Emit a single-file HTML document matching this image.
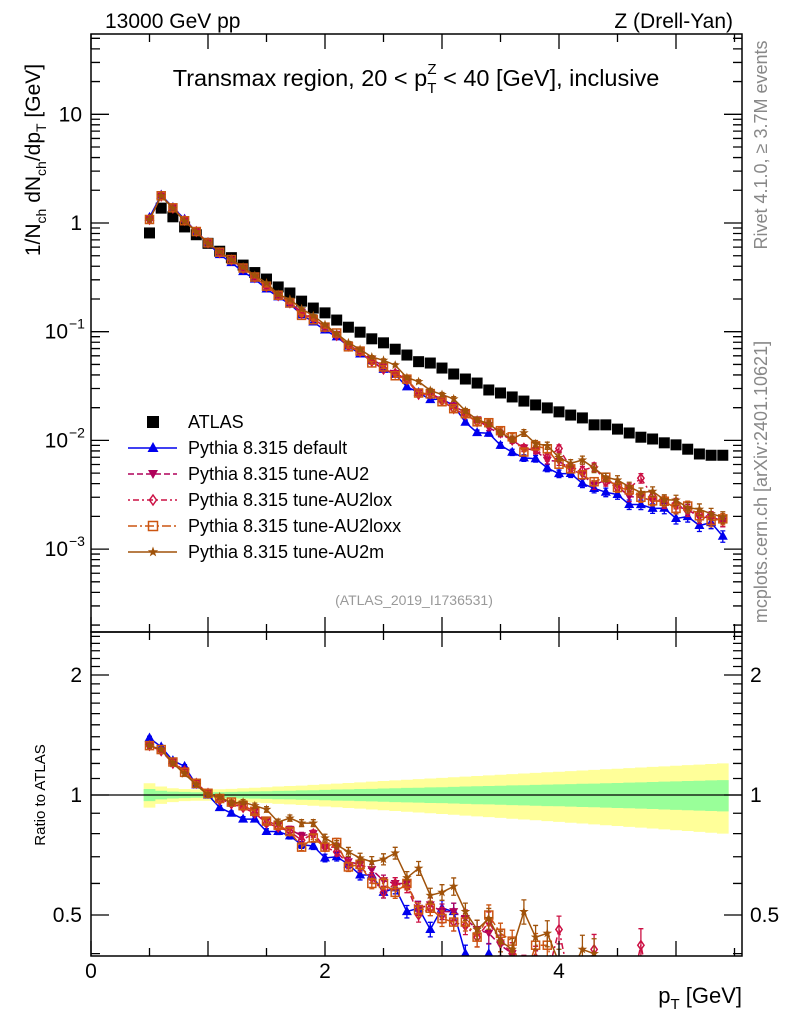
<!DOCTYPE html>
<html><head><meta charset="utf-8"><style>
html,body{margin:0;padding:0;background:#fff;width:786px;height:1024px;overflow:hidden}
svg{display:block;font-family:"Liberation Sans",sans-serif}
</style></head><body>
<svg id="c" width="786" height="1024" viewBox="0 0 786 1024" xmlns="http://www.w3.org/2000/svg">
<defs>
<clipPath id="cm"><rect x="91" y="34" width="651" height="598"/></clipPath>
<clipPath id="cr"><rect x="91" y="632" width="651" height="324"/></clipPath>
</defs>
<text x="105" y="28" font-size="21">13000 GeV pp</text>
<text x="733" y="28" font-size="21" text-anchor="end">Z (Drell-Yan)</text>
<text x="416" y="86" font-size="23.5" text-anchor="middle">Transmax region, 20 &lt; p<tspan font-size="15" dy="7">T</tspan><tspan font-size="15" dx="-9" dy="-19">Z</tspan><tspan dy="12"> &lt; 40 [GeV], inclusive</tspan></text>
<text transform="translate(767,145) rotate(-90)" font-size="18" fill="#888" text-anchor="middle">Rivet 4.1.0, ≥ 3.7M events</text>
<text transform="translate(767,482) rotate(-90)" font-size="18" fill="#888" text-anchor="middle">mcplots.cern.ch [arXiv:2401.10621]</text>
<text x="414" y="605" font-size="14" fill="#999" text-anchor="middle">(ATLAS_2019_I1736531)</text>
<text transform="translate(40,160) rotate(-90)" font-size="21" text-anchor="middle">1/N<tspan font-size="14" dy="6">ch</tspan><tspan dy="-6"> dN</tspan><tspan font-size="14" dy="6">ch</tspan><tspan dy="-6">/dp</tspan><tspan font-size="14" dy="6">T</tspan><tspan dy="-6"> [GeV]</tspan></text>
<text transform="translate(45,795) rotate(-90)" font-size="15" text-anchor="middle">Ratio to ATLAS</text>
<text x="742" y="1003" font-size="22" text-anchor="end">p<tspan font-size="15" dy="6">T</tspan><tspan dy="-6"> [GeV]</tspan></text>
<g id="gband" clip-path="url(#cr)"></g>
<g id="gmain" clip-path="url(#cm)"></g>
<g id="gratio" clip-path="url(#cr)"></g>
<g id="gaxes"></g>
<g id="glegend"></g>
</svg>
<script>
const xBins=[0.5,0.6,0.7,0.8,0.9,1.0,1.1,1.2,1.3,1.4,1.5,1.6,1.7,1.8,1.9,2.0,2.1,2.2,2.3,2.4,2.5,2.6,2.7,2.8,2.9,3.0,3.1,3.2,3.3,3.4,3.5,3.6,3.7,3.8,3.9,4.0,4.1,4.2,4.3,4.4,4.5,4.6,4.7,4.8,4.9,5.0,5.1,5.2,5.3,5.4];
const atlas=[0.81,1.37,1.14,0.92,0.78,0.65,0.55,0.48,0.41,0.35,0.305,0.258,0.227,0.191,0.165,0.149,0.128,0.110,0.099,0.086,0.079,0.069,0.061,0.053,0.0515,0.0463,0.0408,0.0367,0.0337,0.0291,0.0273,0.0251,0.0230,0.0212,0.0199,0.0183,0.0171,0.0161,0.0139,0.0139,0.0127,0.0117,0.0107,0.0103,0.0095,0.0091,0.0083,0.0075,0.0073,0.0073];
const rDefault=[1.39,1.32,1.22,1.18,1.06,1.00,0.93,0.90,0.87,0.87,0.81,0.81,0.79,0.75,0.745,0.695,0.70,0.67,0.63,0.63,0.57,0.585,0.51,0.52,0.46,0.52,0.51,0.40,0.35,0.40,0.33,0.31,0.30,0.32,0.28,0.27,0.29,0.25,0.26,0.24,0.25,0.22,0.24,0.23,0.25,0.21,0.24,0.22,0.24,0.18];
const rAU2=[1.33,1.29,1.21,1.15,1.07,1.01,0.98,0.95,0.94,0.91,0.86,0.84,0.82,0.79,0.80,0.74,0.74,0.68,0.67,0.65,0.61,0.60,0.60,0.52,0.53,0.51,0.51,0.49,0.46,0.45,0.42,0.40,0.37,0.38,0.33,0.35,0.32,0.30,0.28,0.31,0.30,0.26,0.28,0.27,0.29,0.27,0.28,0.26,0.27,0.25];
const rAU2lox=[1.33,1.29,1.20,1.15,1.07,1.01,0.97,0.95,0.93,0.90,0.85,0.83,0.81,0.77,0.80,0.74,0.72,0.67,0.66,0.62,0.57,0.60,0.59,0.50,0.52,0.50,0.48,0.47,0.44,0.48,0.43,0.40,0.37,0.39,0.35,0.46,0.33,0.33,0.41,0.30,0.29,0.31,0.42,0.30,0.28,0.29,0.27,0.28,0.27,0.25];
const rAU2loxx=[1.33,1.30,1.21,1.14,1.07,1.01,0.98,0.96,0.94,0.91,0.86,0.84,0.81,0.74,0.78,0.74,0.76,0.66,0.67,0.60,0.60,0.57,0.60,0.515,0.52,0.49,0.48,0.48,0.44,0.50,0.45,0.43,0.34,0.42,0.42,0.33,0.32,0.30,0.30,0.33,0.29,0.30,0.28,0.27,0.29,0.26,0.30,0.27,0.25,0.26];
const rAU2m=[1.33,1.30,1.20,1.13,1.06,1.00,0.99,0.955,0.96,0.94,0.92,0.855,0.875,0.85,0.85,0.78,0.75,0.72,0.695,0.68,0.69,0.715,0.62,0.655,0.56,0.57,0.59,0.51,0.46,0.49,0.43,0.41,0.51,0.44,0.45,0.38,0.36,0.41,0.40,0.33,0.34,0.32,0.31,0.33,0.30,0.31,0.29,0.31,0.29,0.27];
const mcErr=[0.01,0.01,0.01,0.01,0.01,0.012,0.012,0.013,0.014,0.015,0.016,0.017,0.018,0.02,0.02,0.022,0.024,0.026,0.028,0.03,0.032,0.034,0.036,0.04,0.042,0.045,0.05,0.05,0.055,0.06,0.06,0.065,0.07,0.07,0.075,0.08,0.08,0.085,0.09,0.09,0.095,0.1,0.1,0.1,0.11,0.11,0.11,0.12,0.12,0.12];
const bandGreen=[0.035,0.025,0.02,0.018,0.016,0.016,0.017,0.018,0.02,0.021,0.022,0.024,0.025,0.027,0.028,0.03,0.032,0.033,0.035,0.036,0.038,0.04,0.042,0.043,0.045,0.046,0.048,0.05,0.052,0.053,0.055,0.057,0.058,0.06,0.062,0.063,0.065,0.067,0.068,0.07,0.072,0.074,0.076,0.078,0.08,0.082,0.084,0.086,0.088,0.09];
const bandYellow=[0.07,0.05,0.04,0.035,0.033,0.033,0.034,0.036,0.04,0.043,0.046,0.05,0.053,0.056,0.06,0.064,0.068,0.072,0.076,0.08,0.084,0.088,0.092,0.096,0.1,0.104,0.108,0.112,0.116,0.12,0.124,0.128,0.132,0.136,0.14,0.144,0.148,0.152,0.156,0.16,0.164,0.168,0.172,0.176,0.18,0.184,0.188,0.192,0.196,0.2];
const seriesNames=["Pythia 8.315 default","Pythia 8.315 tune-AU2","Pythia 8.315 tune-AU2lox","Pythia 8.315 tune-AU2loxx","Pythia 8.315 tune-AU2m"];
const xTickLabels=["0","2","4"];
const ratioTickLabels=["0.5","1","2"];

const NS="http://www.w3.org/2000/svg";
const X=v=>91+117*v;
const YM=v=>223-108.7*Math.log10(v);
const YR=r=>795-398.7*Math.log10(r);
function mk(tag,attrs,parent){const e=document.createElementNS(NS,tag);for(const k in attrs)e.setAttribute(k,attrs[k]);parent.appendChild(e);return e;}
const gb=document.getElementById('gband'),gm=document.getElementById('gmain'),gr=document.getElementById('gratio'),ga=document.getElementById('gaxes'),gl=document.getElementById('glegend');
const hw=0.05;
['y','g'].forEach(t=>{const arr=t==='y'?bandYellow:bandGreen;let d='';
 xBins.forEach((x,i)=>{const x0=X(x-hw),x1=X(x+hw),y0=YR(1+arr[i]),y1=YR(1-arr[i]);d+=`M${x0},${y0}H${x1}V${y1}H${x0}Z`;});
 const p=mk('path',{d:d,fill:t==='y'?'#ffff99':'#99ff99'},gb);
 
 });
const ref=mk('line',{x1:91,x2:742,y1:795,y2:795,stroke:'#000','stroke-width':1.3},gb);



function marker(type,cx,cy,col,parent,s){
 s=s||4.5;let e;
 if(type==='sq') e=mk('rect',{x:cx-s,y:cy-s,width:2*s,height:2*s,fill:col},parent);
 else if(type==='tu') e=mk('path',{d:`M${cx},${cy-s-1}L${cx+s+0.5},${cy+s-1}L${cx-s-0.5},${cy+s-1}Z`,fill:col},parent);
 else if(type==='td') e=mk('path',{d:`M${cx},${cy+s}L${cx+s},${cy-s+1}L${cx-s},${cy-s+1}Z`,fill:col},parent);
 else if(type==='di') e=mk('path',{d:`M${cx},${cy-s}L${cx+s*0.7},${cy}L${cx},${cy+s}L${cx-s*0.7},${cy}Z`,fill:'none',stroke:col,'stroke-width':1.5},parent);
 else if(type==='os') e=mk('rect',{x:cx-s+0.5,y:cy-s+0.5,width:2*s-1,height:2*s-1,fill:'none',stroke:col,'stroke-width':1.5},parent);
 else if(type==='st'){let d='';for(let k=0;k<10;k++){const r=k%2?s*0.45:s+0.5,a=-Math.PI/2+k*Math.PI/5;d+=(k?'L':'M')+(cx+r*Math.cos(a)).toFixed(1)+','+(cy+r*Math.sin(a)).toFixed(1);}e=mk('path',{d:d+'Z',fill:col},parent);}
 return e;
}
const series=[
 {r:rDefault,col:'#0000ee',m:'tu',dash:'',key:'default'},
 {r:rAU2,col:'#b0005a',m:'td',dash:'6,3',key:'au2'},
 {r:rAU2lox,col:'#cc1144',m:'di',dash:'2,3,6,3',key:'au2lox'},
 {r:rAU2loxx,col:'#cc5511',m:'os',dash:'9,3,2,3',key:'au2loxx'},
 {r:rAU2m,col:'#a0520a',m:'st',dash:'',key:'au2m'}];
xBins.forEach((x,i)=>{const e=marker('sq',X(x),YM(atlas[i]),'#000',gm,5.5);
 
 });
series.forEach(s=>{
 [[gm,'main'],[gr,'ratio']].forEach(([g,pn])=>{
  const grp=mk('g',{},g);
  
  
  const yf=i=>pn==='main'?YM(atlas[i]*s.r[i]):YR(s.r[i]);
  const pts=xBins.map((x,i)=>X(x).toFixed(1)+','+yf(i).toFixed(1)).join(' ');
  mk('polyline',{points:pts,fill:'none',stroke:s.col,'stroke-width':1.5,'stroke-dasharray':s.dash},grp);
  xBins.forEach((x,i)=>{const v=pn==='main'?atlas[i]*s.r[i]:s.r[i];
   const ya=pn==='main'?YM(v*(1+mcErr[i])):YR(v*(1+mcErr[i])),yb=pn==='main'?YM(v*(1-mcErr[i])):YR(v*(1-mcErr[i]));
   mk('path',{d:`M${X(x)},${ya}V${yb}M${X(x)-2.5},${ya}h5M${X(x)-2.5},${yb}h5`,stroke:s.col,'stroke-width':1.3,fill:'none'},grp);
   const m=marker(s.m,X(x),yf(i),s.col,grp,4.5);
   
   });
 });
});
[[34,632],[632,956]].forEach(([t,b],k)=>{const r=mk('rect',{x:91,y:t,width:651,height:b-t,fill:'none',stroke:'#000','stroke-width':1.5},ga);
 
 });
let d='';
for(let v=0;v<=5.5;v+=0.5){const big=Math.abs(v-Math.round(v))<1e-6;const L=big?15:8;
 [[34,1],[632,-1],[632,1],[956,-1]].forEach(([y,s])=>{d+=`M${X(v)},${y}v${s*L}`;});}
for(let e=-4;e<=1;e++){for(let m=1;m<10;m++){const v=m*Math.pow(10,e),y=YM(v);if(y<34||y>632)continue;const L=m===1?18:9;d+=`M91,${y}h${L}M742,${y}h${-L}`;}}
for(let m=4;m<=25;m++){const v=m/10,y=YR(v);if(y<632||y>956)continue;const L=(m===5||m===10||m===20)?18:9;d+=`M91,${y}h${L}M742,${y}h${-L}`;}
mk('path',{d:d,stroke:'#000','stroke-width':1.3,fill:'none'},ga);
xTickLabels.forEach((t,i)=>{const e=mk('text',{x:X(+t),y:978,'font-size':21,'text-anchor':'middle'},ga);e.textContent=t;
 
 });
ratioTickLabels.forEach(t=>{[[82,'end'],[750,'start']].forEach(([x,a])=>{const e=mk('text',{x:x,y:YR(+t)+7,'font-size':21,'text-anchor':a},ga);e.textContent=t;
 
 });});
const mainTicks=[[10,'10',''],[1,'1',''],[0.1,'10','−1'],[0.01,'10','−2'],[0.001,'10','−3']];
mainTicks.forEach(([v,b,sup])=>{const e=mk('text',{x:sup?68:82,y:YM(v)+7,'font-size':21,'text-anchor':'end'},ga);e.textContent=b;
 
 
 if(sup){const s=mk('text',{x:69,y:YM(v)-3,'font-size':14},ga);s.textContent=sup;
 
 }});
const lg=[{name:'ATLAS',m:'sq',col:'#000',dash:null}].concat(series.map((s,i)=>({name:seriesNames[i],m:s.m,col:s.col,dash:s.dash})));
lg.forEach((l,i)=>{const y=422+26*i;const g=mk('g',{},gl);
 
 
 if(l.dash!==null){mk('line',{x1:128,x2:177,y1:y,y2:y,stroke:l.col,'stroke-width':1.5,'stroke-dasharray':l.dash},g);}
 marker(l.m,153,y,l.col,g,l.m==='sq'?6:5);
 const t=mk('text',{x:188,y:y+6,'font-size':18},g);t.textContent=l.name;});
</script>
</body></html>
